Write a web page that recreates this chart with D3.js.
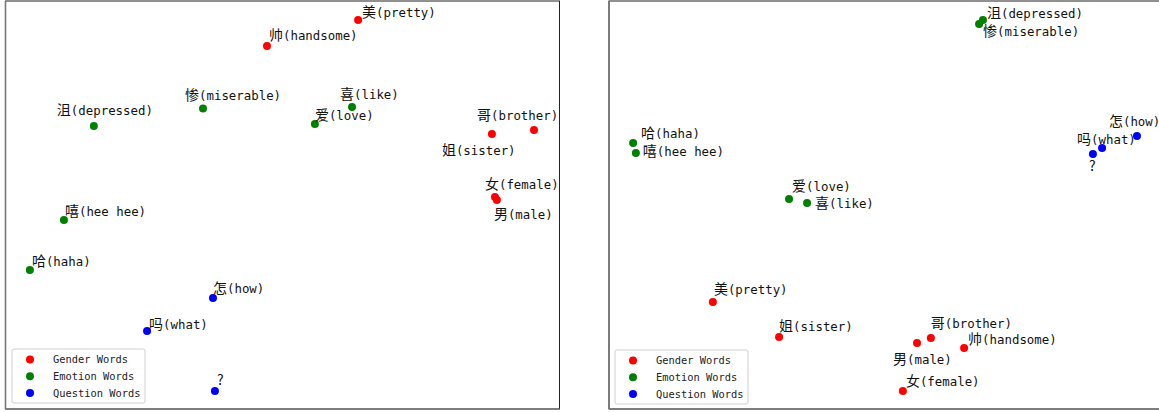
<!DOCTYPE html>
<html><head><meta charset="utf-8">
<script src="https://cdn.jsdelivr.net/npm/d3@7"></script>
<style>
html,body{margin:0;padding:0;background:#fff;overflow:hidden;}
svg{display:block;}
</style></head>
<body>
<svg id="chart" width="1159" height="412"></svg>
<script>
// ---- data ----
const groups = ["Gender Words", "Emotion Words", "Question Words"];
const groupColors = ["#ff0000", "#008000", "#0000ff"];
const words   = ["美", "帅", "姐", "哥", "女", "男", "沮", "惨", "喜", "爱", "嘻", "哈", "怎", "吗", "?"];
const glosses = ["pretty", "handsome", "sister", "brother", "female", "male", "depressed", "miserable", "like", "love", "hee hee", "haha", "how", "what", ""];
const wordGroup = [0, 0, 0, 0, 0, 0, 1, 1, 1, 1, 1, 1, 2, 2, 2];

// left panel embedding coordinates
const leftX = [2.73, -0.56, 7.56, 9.08, 7.67, 7.74, -6.81, -2.87, 2.51, 1.17, -7.89, -9.12, -2.51, -4.89, -2.44];
const leftY = [9.07, 7.79, 3.48, 3.68, 0.39, 0.24, 3.87, 4.73, 4.80, 3.97, -0.74, -3.19, -4.56, -6.18, -9.12];
// right panel embedding coordinates
const rightX = [-6.25, 2.82, -3.86, 1.62, 0.61, 1.12, 3.50, 3.36, -2.85, -3.50, -9.03, -9.13, 9.06, 7.80, 7.47];
const rightY = [-4.75, -7.01, -6.47, -6.52, -9.12, -6.76, 9.07, 8.87, 0.10, 0.29, 2.55, 3.04, 3.38, 2.79, 2.50];

// label placement offsets (px)
const leftLabelDx = [4, 2, -50, -57, -10, -3, -37, -18, -12, 0, 1, 2, 0, 2, 2];
const leftLabelDy = [-3, -6, 21, -10, -8, 19, -11, -8.5, -8, -4, -4, -4.5, -5.5, -2.5, -6.5];
const rightLabelDx = [1, 4, 0, 0, 3, -24, 4, 4, 8, 3, 7, 8, -28, -25, -4];
const rightLabelDy = [-7.5, -4.5, -6, -10, -5, 21, -2, 12, 5, -8, 3, -4.5, -10, -4, 17];

const domainX = [-10, 10];
const domainY = [-10, 10];

// ---- drawing ----
const svg = d3.select("#chart");

const panels = [
  {x0: 5.5, x1: 559.5, y0: 1, y1: 409, xs: leftX, ys: leftY, ldx: leftLabelDx, ldy: leftLabelDy, legX: 12, legY: 349},
  {x0: 609, x1: 1163, y0: 1, y1: 409, xs: rightX, ys: rightY, ldx: rightLabelDx, ldy: rightLabelDy, legX: 615, legY: 350}
];

panels.forEach(p => {
  const x = d3.scaleLinear().domain(domainX).range([p.x0, p.x1]);
  const y = d3.scaleLinear().domain(domainY).range([p.y1, p.y0]);
  const g = svg.append("g");

  // frame
  g.append("rect").attr("x", p.x0).attr("y", p.y0)
    .attr("width", p.x1 - p.x0).attr("height", p.y1 - p.y0)
    .attr("fill", "#fff").attr("stroke", "#222").attr("stroke-width", 1);
  g.append("line").attr("x1", p.x0).attr("x2", p.x0).attr("y1", p.y0).attr("y2", p.y1)
    .attr("stroke", "#777").attr("stroke-width", 1.6);
  g.append("line").attr("x1", p.x0).attr("x2", p.x1).attr("y1", p.y1).attr("y2", p.y1)
    .attr("stroke", "#777").attr("stroke-width", 1.6);

  const idx = d3.range(words.length);

  g.selectAll("circle.pt").data(idx).join("circle")
    .attr("class", "pt")
    .attr("cx", i => x(p.xs[i]))
    .attr("cy", i => y(p.ys[i]))
    .attr("r", 4)
    .attr("fill", i => groupColors[wordGroup[i]]);

  const t = g.selectAll("text.lbl").data(idx).join("text")
    .attr("class", "lbl")
    .attr("x", i => x(p.xs[i]) + p.ldx[i])
    .attr("y", i => y(p.ys[i]) + p.ldy[i])
    .attr("fill", "#111");
  t.append("tspan")
    .style("font-family", "'Noto Sans CJK SC', sans-serif")
    .style("font-size", "14px")
    .text(i => words[i]);
  t.append("tspan")
    .style("font-family", "'DejaVu Sans Mono', monospace")
    .style("font-size", "12.4px")
    .text(i => glosses[i] ? "(" + glosses[i] + ")" : "");

  // legend
  const lg = g.append("g").attr("transform", `translate(${p.legX},${p.legY})`);
  lg.append("rect").attr("width", 133).attr("height", 54).attr("rx", 2)
    .attr("fill", "#fff").attr("fill-opacity", 0.8)
    .attr("stroke", "#d0d0d0").attr("stroke-width", 1);
  groups.forEach((name, k) => {
    const yy = 10.5 + k * 16.8;
    lg.append("circle").attr("cx", 18).attr("cy", yy).attr("r", 4).attr("fill", groupColors[k]);
    lg.append("text").attr("x", 41).attr("y", yy + 3.6)
      .style("font-family", "'DejaVu Sans Mono', monospace")
      .style("font-size", "10.4px").attr("fill", "#222")
      .text(name);
  });
});
</script>
</body></html>
